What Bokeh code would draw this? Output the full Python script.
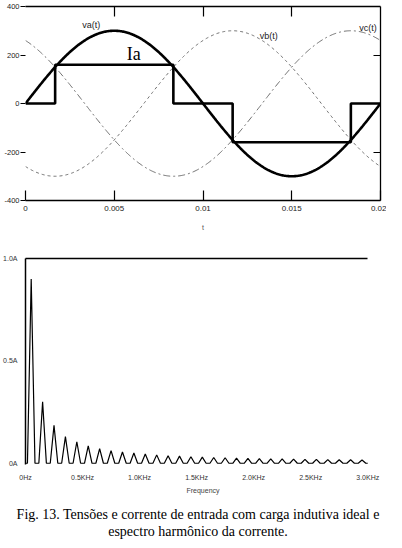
import numpy as np
from bokeh.plotting import figure
from bokeh.models import Range1d, LinearAxis, FixedTicker, CustomJSTickFormatter, Div
from bokeh.layouts import column
from bokeh.embed import file_html
from bokeh.resources import INLINE
from bokeh.core.properties import value

# ---------------- top chart: phase voltages and input current ----------------
v_amplitude = 300.0          # peak phase voltage
line_freq_hz = 50.0
phase_va_deg = 0.0
phase_vb_deg = -120.0
phase_vc_deg = 120.0
t_start, t_end = 0.0, 0.02

ia_t = [0.0, 0.00167, 0.00167, 0.00833, 0.00833, 0.01167, 0.01167, 0.01833, 0.01833, 0.02]
ia_val = [0, 0, 160, 160, 0, 0, -160, -160, 0, 0]

t_ticks = [0.0, 0.005, 0.01, 0.015, 0.02]
t_tick_labels = ["0", "0.005", "0.01", "0.015", "0.02"]
v_ticks = [-400, -200, 0, 200, 400]
v_tick_labels = ["-400", "-200", "0", "200", "400"]

curve_names = ["va(t)", "vb(t)", "vc(t)"]
curve_name_t = [0.0037, 0.0137, 0.0193]
curve_name_v = [322, 278, 310]

# ---------------- bottom chart: harmonic spectrum of the current ----------------
harmonic_freq_hz = [50, 150, 250, 350, 450, 550, 650, 750, 850, 950,
                    1050, 1150, 1250, 1350, 1450, 1550, 1650, 1750, 1850, 1950,
                    2050, 2150, 2250, 2350, 2450, 2550, 2650, 2750, 2850, 2950]
harmonic_amp_a = [0.90, 0.30, 0.185, 0.13, 0.105, 0.085, 0.072, 0.062, 0.055, 0.050,
                  0.045, 0.041, 0.037, 0.035, 0.032, 0.030, 0.028, 0.027, 0.025, 0.024,
                  0.023, 0.022, 0.021, 0.020, 0.019, 0.019, 0.018, 0.017, 0.017, 0.016]
f_ticks = [0, 500, 1000, 1500, 2000, 2500, 3000]
f_tick_labels = ["0Hz", "0.5KHz", "1.0KHz", "1.5KHz", "2.0KHz", "2.5KHz", "3.0KHz"]
a_ticks = [0.0, 0.5, 1.0]
a_tick_labels = ["0A", "0.5A", "1.0A"]

caption_lines = ["Fig. 13. Tensões e corrente de entrada com carga indutiva ideal e",
                 "espectro harmônico da corrente."]

TICK_FONT = "Liberation Sans"
SERIF = "Liberation Serif"
NO_LABELS = CustomJSTickFormatter(code="return ''")

# ================= top figure =================
t = np.linspace(t_start, t_end, 401)
w = 2 * np.pi * line_freq_hz
va = v_amplitude * np.sin(w * t + np.radians(phase_va_deg))
vb = v_amplitude * np.sin(w * t + np.radians(phase_vb_deg))
vc = v_amplitude * np.sin(w * t + np.radians(phase_vc_deg))

p1 = figure(width=386, height=240, x_range=Range1d(t_start, t_end), y_range=Range1d(-400, 400),
            output_backend="svg", toolbar_location=None,
            min_border_left=8, min_border_right=6, min_border_top=6, min_border_bottom=40)
p1.outline_line_color = None
p1.grid.visible = False

xa = p1.xaxis[0]
xa.ticker = FixedTicker(ticks=t_ticks)
xa.major_label_overrides = {k: v for k, v in zip(t_ticks, t_tick_labels)}
xa.major_tick_in = 10
xa.major_tick_out = 0
xa.minor_tick_line_color = None
xa.axis_line_color = "black"
xa.axis_line_width = 1.3
xa.major_tick_line_width = 1.2
xa.major_label_text_font = TICK_FONT
xa.major_label_text_font_size = "8px"
xa.major_label_text_color = "#222222"
xa.major_label_standoff = 5
xa.axis_label = "t"
xa.axis_label_text_font = TICK_FONT
xa.axis_label_text_font_size = "7px"
xa.axis_label_text_font_style = "normal"
xa.axis_label_text_color = "#555555"
xa.axis_label_standoff = 10

ya = p1.yaxis[0]
ya.ticker = FixedTicker(ticks=v_ticks)
ya.major_label_overrides = {k: v for k, v in zip(v_ticks, v_tick_labels)}
ya.axis_line_color = None
ya.major_tick_in = 0
ya.major_tick_out = 5
ya.minor_tick_line_color = None
ya.major_label_text_font = TICK_FONT
ya.major_label_text_font_size = "7.5px"
ya.major_label_text_color = "#222222"
ya.major_label_standoff = 1

top_ax = LinearAxis(ticker=FixedTicker(ticks=t_ticks[1:-1]), formatter=NO_LABELS,
                    major_tick_in=10, major_tick_out=0,
                    minor_tick_line_color=None, axis_line_width=1.3, major_tick_line_width=1.2,
                    major_label_standoff=0)
p1.add_layout(top_ax, "above")
right_ax = LinearAxis(ticker=FixedTicker(ticks=[-200, 0, 200]), formatter=NO_LABELS,
                      major_tick_in=7, major_tick_out=0,
                      minor_tick_line_color=None, axis_line_width=1.3, major_tick_line_width=1.2,
                      major_label_standoff=0)
p1.add_layout(right_ax, "right")

p1.line(t, vb, line_color="#6e6e6e", line_width=1, line_dash="3 3")
p1.line(t, vc, line_color="#6e6e6e", line_width=1, line_dash="7 3 2 3")
p1.line(t, va, line_color="black", line_width=2.6)
p1.line(ia_t, ia_val, line_color="black", line_width=2.6)

p1.text(x=curve_name_t, y=curve_name_v, text=curve_names, text_font=value(TICK_FONT),
        text_font_size="9px", text_align="center", text_baseline="middle", text_color="#222222")
p1.text(x=[0.0061], y=[205], text=["Ia"], text_font=value(SERIF), text_font_size="18px",
        text_align="center", text_baseline="middle", text_color="black")

# ================= bottom figure =================
peak_half_width_hz = 33
spec_f = [0.0]
spec_a = [0.0]
for f, a in zip(harmonic_freq_hz, harmonic_amp_a):
    spec_f += [f - peak_half_width_hz, f, f + peak_half_width_hz]
    spec_a += [0.0, a, 0.0]
spec_f.append(f_ticks[-1])
spec_a.append(0.0)

# the frame runs a little past 3 kHz (empty margin on the right, as in the original)
p2 = figure(width=386, height=256, x_range=Range1d(0, 3112), y_range=Range1d(-0.006, 1.0),
            output_backend="svg", toolbar_location=None,
            min_border_left=8, min_border_right=6, min_border_top=18, min_border_bottom=30)
p2.outline_line_color = None
p2.grid.visible = False

bx = p2.xaxis[0]
bx.ticker = FixedTicker(ticks=f_ticks)
bx.major_label_overrides = {k: v for k, v in zip(f_ticks, f_tick_labels)}
bx.axis_line_color = None
bx.major_tick_line_color = None
bx.minor_tick_line_color = None
bx.major_label_text_font = TICK_FONT
bx.major_label_text_font_size = "7px"
bx.major_label_text_color = "#333333"
bx.major_label_standoff = 3
bx.axis_label = "Frequency"
bx.axis_label_text_font = TICK_FONT
bx.axis_label_text_font_size = "7px"
bx.axis_label_text_font_style = "normal"
bx.axis_label_text_color = "#444444"
bx.axis_label_standoff = 3

by = p2.yaxis[0]
by.ticker = FixedTicker(ticks=a_ticks)
by.major_label_overrides = {k: v for k, v in zip(a_ticks, a_tick_labels)}
by.axis_line_color = "black"
by.axis_line_width = 1.5
by.major_tick_line_color = None
by.minor_tick_line_color = None
by.major_label_text_font = TICK_FONT
by.major_label_text_font_size = "7px"
by.major_label_text_color = "#333333"
by.major_label_standoff = 2

top2 = LinearAxis(formatter=NO_LABELS, major_tick_line_color=None, minor_tick_line_color=None,
                  axis_line_width=1.5, major_label_standoff=0, bounds=(f_ticks[0], f_ticks[-1]))
p2.add_layout(top2, "above")

p2.line(spec_f, spec_a, line_color="black", line_width=1.2)

# ================= caption =================
caption = Div(text='<div style="padding-top:5px">' + "<br>".join(caption_lines) + "</div>",
              width=386, height=36,
              styles={"font-family": "'Liberation Serif', serif", "font-size": "14px",
                      "line-height": "17px", "text-align": "center", "color": "black",
                      "white-space": "nowrap"})

layout = column(p1, p2, caption)

open("out.html", "w").write(file_html(layout, INLINE))
